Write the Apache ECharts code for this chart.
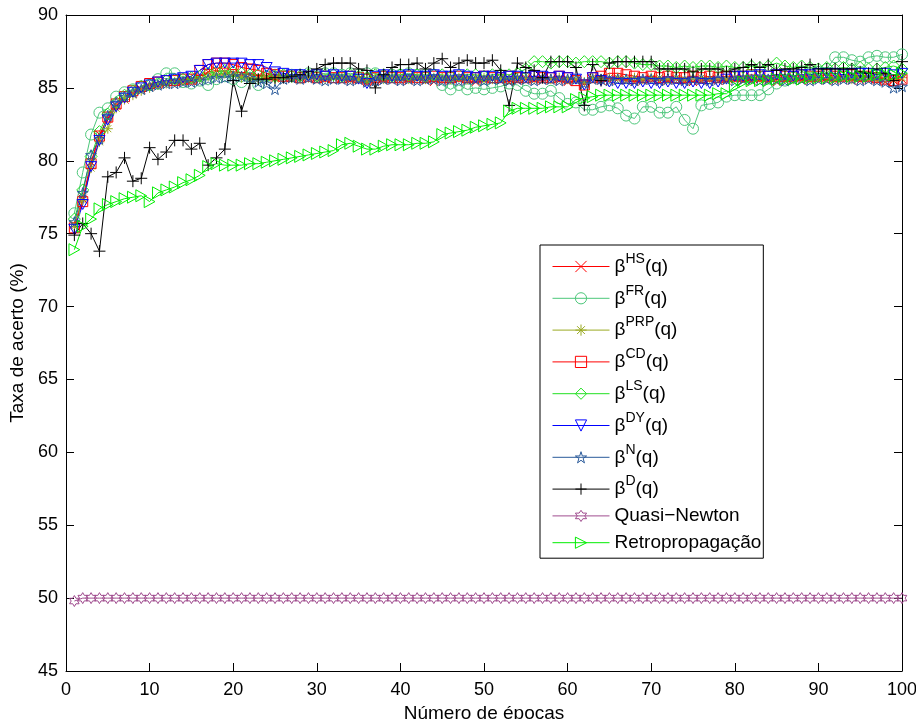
<!DOCTYPE html>
<html>
<head>
<meta charset="utf-8">
<script src="https://cdn.jsdelivr.net/npm/echarts@6/dist/echarts.min.js"></script>
<style>
html,body{margin:0;padding:0;background:#fff;}
#chart{width:916px;height:719px;}
</style>
</head>
<body>
<div id="chart"></div>
<script>
var epochs = [1,2,3,4,5,6,7,8,9,10,11,12,13,14,15,16,17,18,19,20,21,22,23,24,25,26,27,28,29,30,31,32,33,34,35,36,37,38,39,40,41,42,43,44,45,46,47,48,49,50,51,52,53,54,55,56,57,58,59,60,61,62,63,64,65,66,67,68,69,70,71,72,73,74,75,76,77,78,79,80,81,82,83,84,85,86,87,88,89,90,91,92,93,94,95,96,97,98,99,100];

var xTicks = [0,10,20,30,40,50,60,70,80,90,100];
var yTicks = [45,50,55,60,65,70,75,80,85,90];

var hs = [75.6,77.4,79.9,81.8,82.9,83.8,84.2,84.6,84.9,85.1,
85.2,85.3,85.4,85.4,85.5,85.8,86.1,86.2,86.1,86.0,
85.9,85.9,85.8,85.8,85.7,85.7,85.6,85.6,85.7,85.6,
85.6,85.7,85.6,85.5,85.6,85.4,85.5,85.5,85.6,85.5,
85.5,85.6,85.5,85.4,85.5,85.5,85.6,85.5,85.4,85.5,
85.6,85.5,85.4,85.5,85.6,85.5,85.5,85.6,85.5,85.4,
85.5,85.3,85.6,85.5,85.5,85.6,85.5,85.4,85.5,85.6,
85.5,85.5,85.6,85.5,85.4,85.5,85.6,85.5,85.5,85.6,
85.5,85.5,85.6,85.5,85.4,85.5,85.6,85.5,85.5,85.6,
85.5,85.5,85.6,85.5,85.5,85.6,85.5,85.4,85.5,85.6];

var fr = [76.4,79.2,81.8,83.3,83.6,84.4,84.7,84.9,85.1,85.2,
85.6,86.0,86.0,85.4,85.3,85.5,85.2,85.6,85.8,85.6,
85.4,85.7,85.2,85.8,85.9,85.8,85.9,85.9,86.0,85.9,
86.0,86.0,85.9,86.0,85.9,86.0,86.0,85.8,85.9,85.9,
86.0,85.9,85.9,85.9,85.2,84.9,85.2,84.9,85.0,84.9,
85.0,85.1,85.3,85.2,84.8,84.6,84.6,84.8,84.3,83.9,
84.0,83.5,83.5,83.7,83.8,83.6,83.1,82.9,83.7,83.7,
83.3,83.3,83.7,82.8,82.2,83.8,83.9,84.0,84.4,84.5,
84.5,84.5,84.5,84.9,85.3,85.5,85.7,86.1,86.0,86.1,
86.3,87.1,87.1,86.9,86.8,87.1,87.2,87.1,87.1,87.3];

var prp = [75.5,77.3,79.5,81.3,82.2,83.6,84.2,84.5,84.8,85.0,
85.2,85.3,85.4,85.5,85.6,85.6,85.8,85.9,86.0,85.9,
85.7,85.6,85.6,85.7,85.6,85.7,85.7,85.6,85.7,85.7,
85.6,85.7,85.7,85.6,85.6,85.5,85.7,85.6,85.7,85.7,
85.6,85.7,85.6,85.7,85.7,85.6,85.7,85.6,85.7,85.7,
85.6,85.7,85.6,85.7,85.7,85.6,85.7,85.6,85.7,85.6,
85.6,85.4,85.7,85.6,85.7,85.7,85.6,85.7,85.6,85.7,
85.7,85.6,85.7,85.6,85.7,85.7,85.6,85.7,85.6,85.7,
85.7,85.6,85.7,85.6,85.7,85.7,85.6,85.7,85.6,85.7,
85.7,85.6,85.7,85.6,85.7,85.7,85.6,85.7,85.6,85.7];

var cd = [75.4,77.2,79.8,81.7,83.0,83.9,84.4,84.8,85.1,85.3,
85.4,85.5,85.5,85.6,85.6,86.2,86.6,86.7,86.7,86.6,
86.4,86.3,86.2,86.0,85.9,85.8,85.8,85.7,85.8,85.7,
85.8,85.7,85.7,85.8,85.7,85.6,85.7,85.8,85.7,85.7,
85.8,85.7,85.7,85.8,85.7,85.7,85.8,85.7,85.7,85.8,
85.7,85.7,85.8,85.7,85.7,85.8,85.7,85.7,85.8,85.7,
85.5,85.2,85.7,85.8,86.0,86.0,85.9,85.8,85.7,85.8,
85.7,85.8,85.7,85.7,85.8,85.7,85.8,85.7,85.8,85.8,
85.8,85.9,85.8,85.8,85.9,85.8,85.8,85.9,85.8,85.8,
85.9,85.8,85.8,85.9,85.8,85.8,85.7,85.6,85.5,85.6];

var ls = [76.0,78.0,80.3,82.0,83.2,84.0,84.5,84.8,85.1,85.2,
85.3,85.5,85.6,85.6,85.7,85.8,86.0,86.1,86.2,86.1,
86.0,85.9,85.9,85.8,85.8,85.9,85.8,85.8,85.9,85.8,
85.9,85.9,85.8,85.9,85.8,85.7,85.9,85.9,85.8,85.9,
85.9,85.9,85.8,85.9,85.9,85.8,85.9,85.9,85.9,85.8,
85.9,85.9,85.9,86.0,86.3,86.8,86.8,86.7,86.8,86.8,
86.7,86.8,86.8,86.8,86.7,86.8,86.8,86.7,86.6,86.6,
86.5,86.5,86.4,86.5,86.4,86.5,86.5,86.4,86.5,86.4,
86.4,86.5,86.4,86.5,86.7,86.5,86.4,86.5,86.4,86.3,
86.4,86.3,86.4,86.3,86.4,86.3,86.3,86.4,86.5,86.3];

var dy = [75.3,77.0,79.6,81.4,82.8,83.7,84.3,84.7,85.0,85.2,
85.4,85.5,85.6,85.7,85.8,86.2,86.6,86.7,86.7,86.7,
86.7,86.6,86.6,86.4,86.1,86.0,85.9,85.9,85.8,85.9,
85.8,85.9,85.8,85.8,85.6,85.3,85.8,85.9,85.8,85.8,
85.9,85.8,85.8,85.9,85.8,85.8,85.9,85.8,85.7,85.8,
85.8,85.7,85.8,85.8,85.7,85.8,85.8,85.7,85.8,85.7,
85.6,85.2,85.7,85.5,85.4,85.3,85.3,85.3,85.4,85.3,
85.3,85.4,85.3,85.3,85.4,85.3,85.3,85.4,85.6,85.8,
85.8,85.8,85.9,85.8,85.9,85.9,85.8,85.9,85.9,86.0,
86.0,86.0,85.9,86.0,86.0,86.0,85.9,86.0,85.9,86.0];

var nn = [75.8,77.8,80.4,81.5,83.1,84.0,84.4,84.7,84.9,85.1,
85.2,85.3,85.3,85.4,85.4,85.5,85.6,85.7,85.7,85.8,
85.8,85.7,85.4,85.3,84.9,85.6,85.7,85.6,85.7,85.6,
85.5,85.6,85.6,85.5,85.6,85.4,85.5,85.6,85.6,85.5,
85.6,85.5,85.6,85.6,85.5,85.6,85.5,85.6,85.6,85.5,
85.6,85.6,85.5,85.6,85.6,85.5,85.6,85.6,85.5,85.6,
85.6,85.3,85.6,85.6,85.5,85.6,85.6,85.5,85.6,85.6,
85.5,85.6,85.6,85.5,85.6,85.6,85.5,85.6,85.6,85.5,
85.6,85.6,85.5,85.6,85.6,85.5,85.6,85.6,85.5,85.6,
85.6,85.5,85.6,85.6,85.5,85.6,85.5,85.4,85.0,85.1];

var dd = [74.9,75.7,75.0,73.8,78.9,79.2,80.2,78.6,78.8,80.9,
80.1,80.6,81.4,81.4,80.8,81.2,79.7,80.2,80.8,85.5,
83.4,85.3,85.6,85.6,85.7,85.7,85.8,85.9,86.1,86.3,
86.6,86.7,86.7,86.7,86.3,86.2,85.0,85.9,86.4,86.6,
86.6,86.7,86.3,86.7,87.0,86.4,86.7,86.9,86.7,86.7,
86.9,86.2,83.8,86.7,86.4,86.2,85.7,86.8,86.8,86.8,
86.4,83.8,86.6,85.5,86.7,86.8,86.8,86.8,86.8,86.8,
86.3,86.3,86.3,86.3,86.1,86.3,86.3,86.3,86.1,86.3,
86.4,86.6,86.4,86.6,86.2,86.3,86.3,86.4,86.6,86.3,
86.3,86.3,86.3,86.3,86.1,86.0,86.3,86.0,85.5,86.8];

var qn = [49.8,50.0,50.0,50.0,50.0,50.0,50.0,50.0,50.0,50.0,
50.0,50.0,50.0,50.0,50.0,50.0,50.0,50.0,50.0,50.0,
50.0,50.0,50.0,50.0,50.0,50.0,50.0,50.0,50.0,50.0,
50.0,50.0,50.0,50.0,50.0,50.0,50.0,50.0,50.0,50.0,
50.0,50.0,50.0,50.0,50.0,50.0,50.0,50.0,50.0,50.0,
50.0,50.0,50.0,50.0,50.0,50.0,50.0,50.0,50.0,50.0,
50.0,50.0,50.0,50.0,50.0,50.0,50.0,50.0,50.0,50.0,
50.0,50.0,50.0,50.0,50.0,50.0,50.0,50.0,50.0,50.0,
50.0,50.0,50.0,50.0,50.0,50.0,50.0,50.0,50.0,50.0,
50.0,50.0,50.0,50.0,50.0,50.0,50.0,50.0,50.0,50.0];

var retro = [73.9,75.5,76.0,76.7,77.0,77.2,77.4,77.5,77.6,77.2,
77.8,78.0,78.2,78.5,78.7,79.0,79.6,79.8,79.7,79.7,
79.7,79.8,79.8,79.9,80.0,80.1,80.2,80.3,80.4,80.5,
80.6,80.7,81.1,81.2,81.0,80.8,80.8,81.0,81.1,81.1,
81.1,81.2,81.2,81.3,81.8,81.9,82.0,82.1,82.3,82.4,
82.5,82.6,83.4,83.6,83.6,83.6,83.6,83.7,83.7,83.7,
84.2,84.3,84.4,84.5,84.5,84.5,84.5,84.5,84.5,84.5,
84.5,84.5,84.5,84.5,84.5,84.5,84.5,84.6,84.6,85.1,
85.4,85.5,85.5,85.5,85.6,85.6,85.6,85.6,85.7,85.7,
85.7,85.7,85.8,85.8,85.8,85.8,85.9,85.9,85.9,86.0];

var seriesNames = ['bHS','bFR','bPRP','bCD','bLS','bDY','bN','bD','Quasi−Newton','Retropropagação'];
var supTexts = ['HS','FR','PRP','CD','LS','DY','N','D',null,null];

var FONT = "'Liberation Sans', Arial, Helvetica, sans-serif";

var SYM = {
  x: 'path://M0,0L10,10M10,0L0,10',
  plus: 'path://M5,0L5,10M0,5L10,5',
  aster: 'path://M5,0L5,10M0,5L10,5M1.5,1.5L8.5,8.5M8.5,1.5L1.5,8.5',
  tdown: 'path://M0,0L10,0L5,9Z',
  tright: 'path://M0,0L9,5L0,10Z',
  pent: 'path://M10,0L12.25,6.91L19.51,6.91L13.63,11.18L15.88,18.09L10,13.82L4.12,18.09L6.37,11.18L0.49,6.91L7.75,6.91Z',
  hexa: 'path://M10,0L12.89,5L18.66,5L15.77,10L18.66,15L12.89,15L10,20L7.11,15L1.34,15L4.23,10L1.34,5L7.11,5Z'
};

function pairs(vals){
  var out = [];
  for (var i = 0; i < epochs.length; i++) out.push([epochs[i], vals[i]]);
  return out;
}

function mk(name, vals, color, symbol, size, lw){
  return {
    name: name,
    type: 'line',
    data: pairs(vals),
    symbol: symbol,
    symbolSize: size,
    symbolKeepAspect: true,
    showSymbol: true,
    clip: false,
    animation: false,
    lineStyle: {color: color, width: lw || 1},
    itemStyle: {color: 'none', borderColor: color, borderWidth: 1},
    emphasis: {disabled: true},
    z: 2
  };
}

var chart = echarts.init(document.getElementById('chart'), null, {renderer: 'canvas'});

var series = [
  mk('bHS', hs, '#ff0000', SYM.x, 8),
  mk('bFR', fr, '#4cc77a', 'circle', 11),
  mk('bPRP', prp, '#9aaa22', SYM.aster, 10),
  mk('bCD', cd, '#ff0000', 'rect', 10),
  mk('bLS', ls, '#22e022', 'diamond', 12),
  mk('bDY', dy, '#0000ff', SYM.tdown, 11),
  mk('bN', nn, '#2a5a9a', SYM.pent, 11),
  mk('bD', dd, '#000000', SYM.plus, 12),
  mk('Quasi−Newton', qn, '#a04d8f', SYM.hexa, 11),
  mk('Retropropagação', retro, '#00ee00', SYM.tright, 12)
];

var option = {
  backgroundColor: '#ffffff',
  animation: false,
  textStyle: {fontFamily: FONT},
  grid: {left: 66, right: 14, top: 15, bottom: 48, containLabel: false, outerBoundsMode: 'none', show: false},
  xAxis: [
    {
      type: 'value', position: 'bottom', min: 0, max: 100, interval: 10,
      axisLine: {show: true, onZero: false, lineStyle: {color: '#000', width: 1}},
      axisTick: {show: true, inside: true, length: 8, lineStyle: {color: '#000'}},
      axisLabel: {show: true, fontSize: 18, color: '#000', margin: 10, fontFamily: FONT,
        formatter: function(v){ return xTicks.indexOf(v) >= 0 ? String(v) : ''; }},
      splitLine: {show: false},
      name: 'Número de épocas', nameLocation: 'middle', nameGap: 31,
      nameTextStyle: {fontSize: 19, color: '#000', fontFamily: FONT}
    },
    {
      type: 'value', position: 'top', min: 0, max: 100, interval: 10,
      axisLine: {show: true, onZero: false, lineStyle: {color: '#000', width: 1}},
      axisTick: {show: true, inside: true, length: 8, lineStyle: {color: '#000'}},
      axisLabel: {show: false},
      splitLine: {show: false}
    }
  ],
  yAxis: [
    {
      type: 'value', position: 'left', min: 45, max: 90, interval: 5,
      axisLine: {show: true, onZero: false, lineStyle: {color: '#000', width: 1}},
      axisTick: {show: true, inside: true, length: 8, lineStyle: {color: '#000'}},
      axisLabel: {show: true, fontSize: 18, color: '#000', margin: 8, fontFamily: FONT,
        formatter: function(v){ return yTicks.indexOf(v) >= 0 ? String(v) : ''; }},
      splitLine: {show: false},
      name: 'Taxa de acerto (%)', nameLocation: 'middle', nameGap: 31,
      nameTextStyle: {fontSize: 19, color: '#000', fontFamily: FONT}
    },
    {
      type: 'value', position: 'right', min: 45, max: 90, interval: 5,
      axisLine: {show: true, onZero: false, lineStyle: {color: '#000', width: 1}},
      axisTick: {show: true, inside: true, length: 8, lineStyle: {color: '#000'}},
      axisLabel: {show: false},
      splitLine: {show: false}
    }
  ],
  legend: {
    orient: 'vertical',
    left: 540, top: 245,
    padding: [7, 2, 6, 12],
    itemWidth: 57, itemHeight: 14, itemGap: 7.8,
    backgroundColor: '#ffffff',
    borderColor: '#000', borderWidth: 1, borderRadius: 0,
    data: seriesNames,
    selectedMode: false,
    lineStyle: {width: 1},
    itemStyle: {borderWidth: 1},
    formatter: function(name){
      var idx = seriesNames.indexOf(name);
      var sup = supTexts[idx];
      if (sup) return '{n|β}{s|' + sup + '}{n|(q)}';
      return '{p|' + name + '}';
    },
    textStyle: {
      fontSize: 19, color: '#000', fontFamily: FONT,
      rich: {
        n: {fontSize: 19, lineHeight: 29, fontFamily: FONT, color: '#000'},
        s: {fontSize: 14, lineHeight: 14, verticalAlign: 'top', fontFamily: FONT, color: '#000'},
        p: {fontSize: 19, lineHeight: 23, fontFamily: FONT, color: '#000'}
      }
    }
  },
  series: series
};

chart.setOption(option);
</script>
</body>
</html>
